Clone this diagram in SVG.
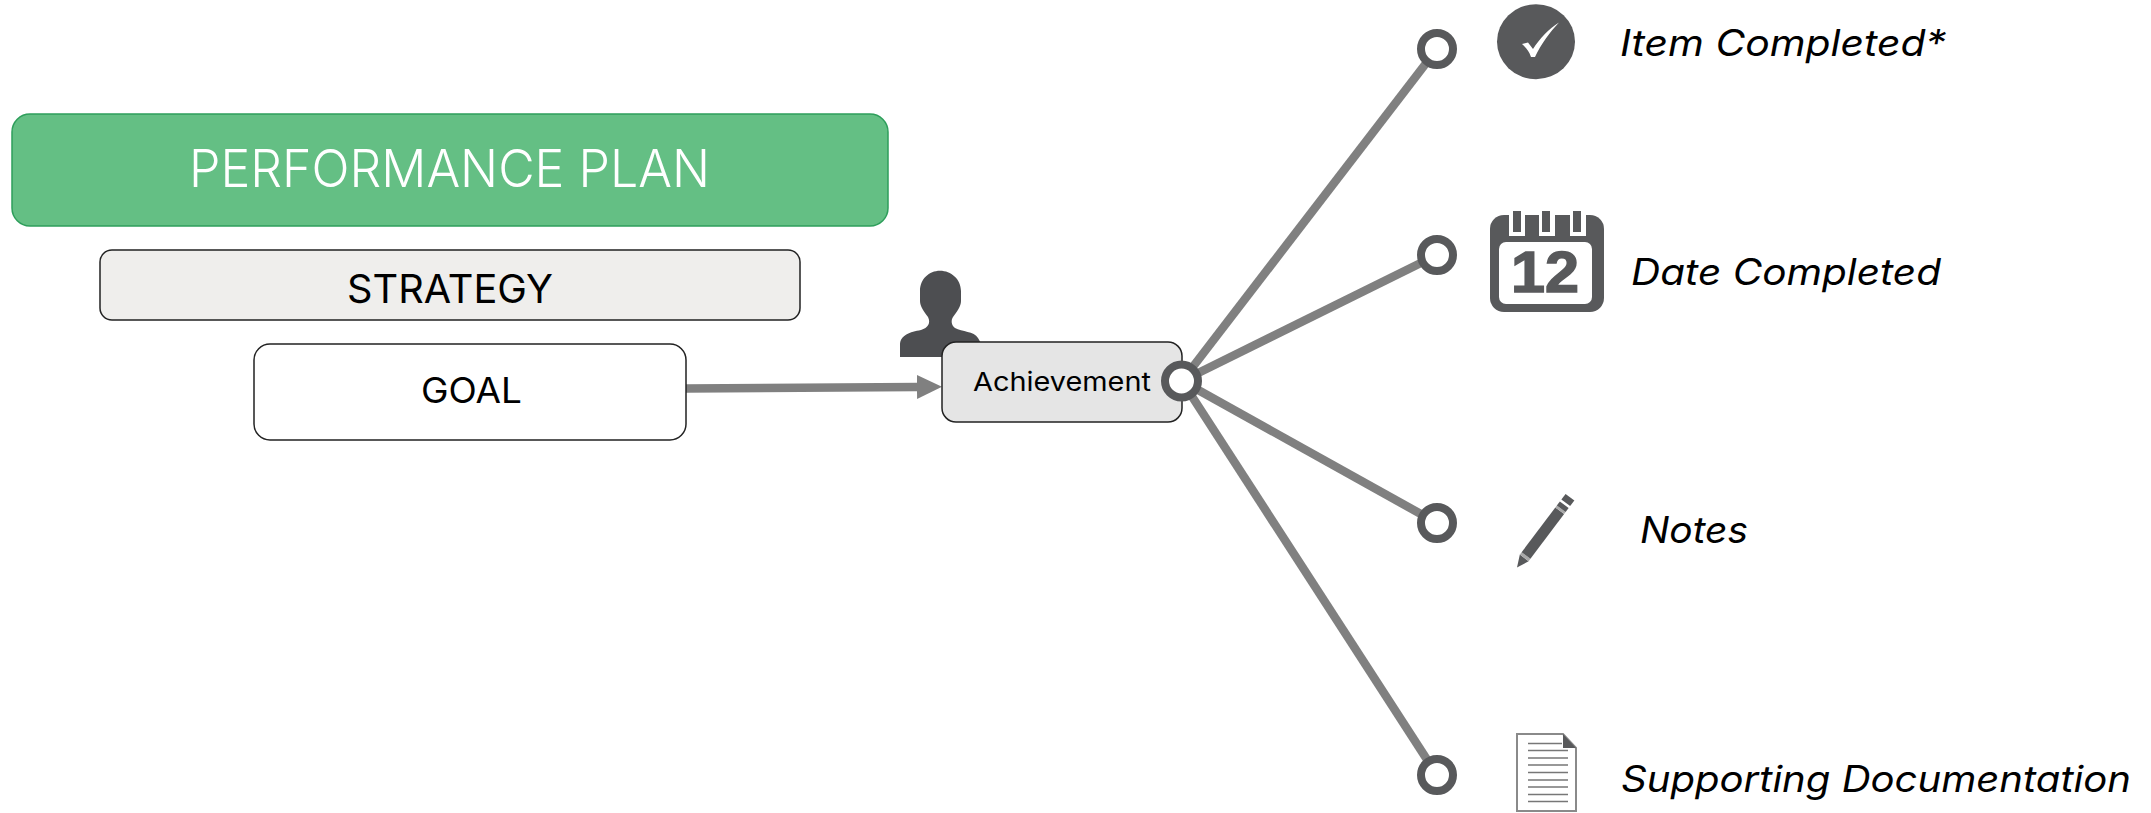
<svg xmlns="http://www.w3.org/2000/svg" width="2151" height="813" viewBox="0 0 2151 813">
<defs>
<style>
.t{font-family:"Inter","Open Sans","Noto Sans",sans-serif;fill:#000}
.i{font-style:italic;font-size:37px;font-family:"Inter","Open Sans","Noto Sans",sans-serif;fill:#000}
.c{fill:none;stroke:#808080;stroke-width:8.500}
.r{fill:#fff;stroke:#58595b;stroke-width:8}
.d{fill:#58595b}
.l{stroke:#777;stroke-width:1.6}
</style>
<marker id="ah" markerUnits="userSpaceOnUse" markerWidth="26" markerHeight="26" refX="1" refY="13" orient="auto"><path d="M0 1 L25 13 L0 25Z" fill="#808080"/></marker>
</defs>
<rect width="2151" height="813" fill="#fff"/>
<g id="connectors">
<line class="c" x1="686" y1="388.500" x2="918" y2="387" marker-end="url(#ah)"/>
<line class="c" x1="1182" y1="381" x2="1437" y2="49"/>
<line class="c" x1="1182" y1="381" x2="1437" y2="255"/>
<line class="c" x1="1182" y1="381" x2="1437" y2="523"/>
<line class="c" x1="1182" y1="381" x2="1437" y2="775"/>
</g>
<g id="performance-plan">
<rect x="12" y="114" width="876" height="112" rx="18" fill="#64bf84" stroke="#2e9e5b" stroke-width="1.500"/>
<text class="t" x="189" y="187" font-size="52" font-weight="300" style="fill:#fff" textLength="521" lengthAdjust="spacingAndGlyphs">PERFORMANCE PLAN</text>
</g>
<g id="strategy">
<rect x="100" y="250" width="700" height="70" rx="12" fill="#efeeec" stroke="#222" stroke-width="1.500"/>
<text class="t" x="347" y="303" font-size="39" textLength="206" lengthAdjust="spacingAndGlyphs">STRATEGY</text>
</g>
<g id="goal">
<rect x="254" y="344" width="432" height="96" rx="16" fill="#fff" stroke="#222" stroke-width="1.500"/>
<text class="t" x="421" y="403" font-size="35" textLength="101" lengthAdjust="spacingAndGlyphs">GOAL</text>
</g>
<g id="person">
<path fill="#4d4e51" d="M940 270.700C951 270.700 961 279 961 291L961 301C961 306 957 312 953 317C951 320 951 325 955 328C962 332 974 331 978 338L982 345L982 357L900 357L900 345C900 335 910 332 921 330C928 328 931 323 928 317C924 312 920 306 920 301L920 291C920 279 929 270.700 940 270.700Z"/>
</g>
<g id="achievement">
<rect x="942" y="342" width="240" height="80" rx="14" fill="#e5e5e5" stroke="#222" stroke-width="1.500"/>
<text class="t" x="973" y="391" font-size="26" textLength="178" lengthAdjust="spacingAndGlyphs">Achievement</text>
<circle class="r" cx="1181.500" cy="381" r="16.500"/>
</g>
<g id="item-completed">
<circle class="r" cx="1437" cy="49" r="16"/>
<ellipse class="d" cx="1536" cy="41.700" rx="39" ry="37.500"/>
<path fill="#fff" d="M1522 44L1528 42.500L1533 49C1540 38 1549 29 1559 22.500C1550 32 1541 44 1535 57L1531 57C1529 51 1526 48 1522 44Z"/>
<text class="i" x="1620" y="56" textLength="326" lengthAdjust="spacingAndGlyphs">Item Completed*</text>
</g>
<g id="date-completed">
<circle class="r" cx="1437" cy="255" r="16"/>
<rect class="d" x="1490" y="215" width="114" height="97" rx="14"/>
<rect x="1499" y="242" width="93" height="62" rx="7" fill="#fff"/>
<path fill="#fff" d="M1509 211h16v25h-16zM1539 211h16v25h-16zM1570 211h16v25h-16z"/>
<path class="d" d="M1513 211h8v21h-8zM1542 211h8v21h-8zM1573 211h8v21h-8z"/>
<text x="1511" y="292" font-family="Liberation Sans, Arial, sans-serif" font-weight="700" font-size="57" fill="#58595b" stroke="#58595b" stroke-width="1.500" textLength="68" lengthAdjust="spacingAndGlyphs">12</text>
<text class="i" x="1631" y="285" textLength="310" lengthAdjust="spacingAndGlyphs">Date Completed</text>
</g>
<g id="notes">
<circle class="r" cx="1437" cy="523" r="16"/>
<g transform="translate(1517 567.500) rotate(-53)">
<path class="d" d="M0 0L12 -5.500L12 5.500Z"/>
<path fill="#a9a9a9" d="M12 -5.500h3v11h-3z"/>
<path class="d" d="M15 -5.500h56v11h-56z"/>
<path fill="#a9a9a9" d="M71 -5.500h2.500v11h-2.500z"/>
<path class="d" d="M73.500 -5.500h5v11h-5z"/>
<path class="d" d="M81 -5.500h7v11h-7z"/>
</g>
<text class="i" x="1640" y="543" textLength="108" lengthAdjust="spacingAndGlyphs">Notes</text>
</g>
<g id="supporting-documentation">
<circle class="r" cx="1437" cy="775" r="16"/>
<path d="M1517 734H1563L1576 748V811H1517Z" fill="#fff" stroke="#8a8a8a" stroke-width="2"/>
<path class="d" d="M1563 734L1576 748H1563Z"/>
<path class="l" d="M1528 743.500H1562M1528 750.500H1568M1528 758H1568M1528 765H1568M1528 772.500H1568M1528 780H1568M1528 787H1568M1528 794.500H1568M1528 801.500H1568"/>
<text class="i" x="1621" y="792" textLength="510" lengthAdjust="spacingAndGlyphs">Supporting Documentation</text>
</g>
</svg>
